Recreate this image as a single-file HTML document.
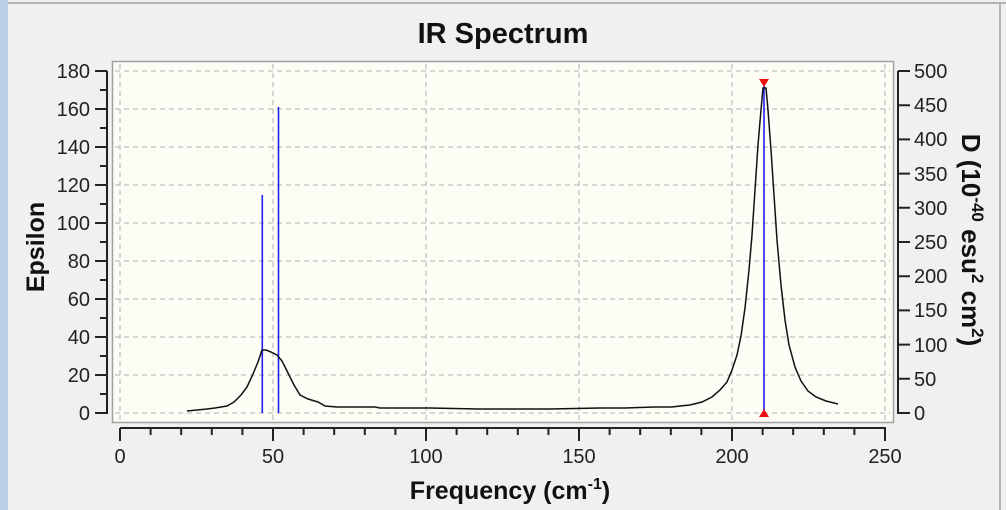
<!DOCTYPE html>
<html><head><style>
body{margin:0;width:1006px;height:510px;overflow:hidden;background:#f0f0f0;}
svg{display:block;font-family:"Liberation Sans",sans-serif;}
</style></head><body>
<svg width="1006" height="510" viewBox="0 0 1006 510">
<rect x="0" y="0" width="1006" height="510" fill="#f0f0f0"/>
<rect x="0" y="0" width="8" height="510" fill="#b9cfe6"/>
<line x1="8" y1="3" x2="1006" y2="3" stroke="#a0a0a0" stroke-width="1.5"/>
<line x1="1000" y1="3" x2="1000" y2="510" stroke="#a0a0a0" stroke-width="1.5"/>
<text x="503" y="43" font-size="29" font-weight="bold" text-anchor="middle" fill="#111">IR Spectrum</text>
<rect x="112.5" y="61.5" width="781" height="361" fill="#fdfdf6" stroke="#a0a0a0" stroke-width="1.5"/>
<g stroke="#b0b0b0" stroke-dasharray="5,4" stroke-width="1">
<line x1="120" y1="64" x2="120" y2="420"/><line x1="273" y1="64" x2="273" y2="420"/>
<line x1="426" y1="64" x2="426" y2="420"/><line x1="579" y1="64" x2="579" y2="420"/>
<line x1="732" y1="64" x2="732" y2="420"/><line x1="885" y1="64" x2="885" y2="420"/>
<line x1="115" y1="71" x2="890" y2="71"/><line x1="115" y1="109" x2="890" y2="109"/>
<line x1="115" y1="147" x2="890" y2="147"/><line x1="115" y1="185" x2="890" y2="185"/>
<line x1="115" y1="223" x2="890" y2="223"/><line x1="115" y1="261" x2="890" y2="261"/>
<line x1="115" y1="299" x2="890" y2="299"/><line x1="115" y1="337" x2="890" y2="337"/>
<line x1="115" y1="375" x2="890" y2="375"/><line x1="115" y1="413" x2="890" y2="413"/>
</g>
<g stroke="#222" stroke-width="2">
<line x1="107" y1="71" x2="107" y2="414"/>
<path d="M95 71H107M100 90H107M95 109H107M100 128H107M95 147H107M100 166H107M95 185H107M100 204H107M95 223H107M100 242H107M95 261H107M100 280H107M95 299H107M100 318H107M95 337H107M100 356H107M95 375H107M100 394H107M95 413H107"/>
<line x1="898" y1="71" x2="898" y2="414"/>
<path d="M898 71H910M898 105.2H910M898 139.4H910M898 173.6H910M898 207.8H910M898 242H910M898 276.2H910M898 310.4H910M898 344.6H910M898 378.8H910M898 413H910"/>
<line x1="120" y1="428" x2="886" y2="428"/>
<path d="M120 428V441M150.6 428V435M181.2 428V435M211.8 428V435M242.4 428V435M273 428V441M303.6 428V435M334.2 428V435M364.8 428V435M395.4 428V435M426 428V441M456.6 428V435M487.2 428V435M517.8 428V435M548.4 428V435M579 428V441M609.6 428V435M640.2 428V435M670.8 428V435M701.4 428V435M732 428V441M762.6 428V435M793.2 428V435M823.8 428V435M854.4 428V435M885 428V441"/>
</g>
<g font-size="20" fill="#222" text-anchor="end">
<text x="90" y="78">180</text><text x="90" y="116">160</text><text x="90" y="154">140</text><text x="90" y="192">120</text><text x="90" y="230">100</text><text x="90" y="268">80</text><text x="90" y="306">60</text><text x="90" y="344">40</text><text x="90" y="382">20</text><text x="90" y="420">0</text>
</g>
<g font-size="20" fill="#222">
<text x="914" y="78">500</text><text x="914" y="112">450</text><text x="914" y="146">400</text><text x="914" y="181">350</text><text x="914" y="215">300</text><text x="914" y="249">250</text><text x="914" y="283">200</text><text x="914" y="317">150</text><text x="914" y="352">100</text><text x="914" y="386">50</text><text x="914" y="420">0</text>
</g>
<g font-size="20" fill="#222" text-anchor="middle">
<text x="120" y="463">0</text><text x="273" y="463">50</text><text x="426" y="463">100</text><text x="579" y="463">150</text><text x="732" y="463">200</text><text x="885" y="463">250</text>
</g>
<text x="510" y="499" font-size="25" font-weight="bold" text-anchor="middle" fill="#111">Frequency (cm<tspan dy="-10" font-size="16">-1</tspan><tspan dy="10">)</tspan></text>
<text transform="translate(44,247) rotate(-90)" font-size="25" font-weight="bold" text-anchor="middle" fill="#111">Epsilon</text>
<text transform="translate(962,240) rotate(90)" font-size="26" font-weight="bold" text-anchor="middle" fill="#111">D (10<tspan dy="-10" font-size="17">-40</tspan><tspan dy="10"> esu</tspan><tspan dy="-10" font-size="17">2</tspan><tspan dy="10"> cm</tspan><tspan dy="-10" font-size="17">2</tspan><tspan dy="10">)</tspan></text>
<g stroke="#2020ee" stroke-width="1.6">
<line x1="262.3" y1="413" x2="262.3" y2="195"/>
<line x1="278.5" y1="413" x2="278.5" y2="107"/>
<line x1="764" y1="413" x2="764" y2="84"/>
</g>
<polyline fill="none" stroke="#111" stroke-width="1.5" points="
187,411 197,410 207,409 215,408 227,406 234,402 241,395 247,387 253,374 258,362 262,350 266,350 271,352 277,355 282,361 288,373 294,385 300,395 308,399 318,402 325,406 337,407 375,407 380,408 430,408 478,409 550,409 600,408 625,408 655,407 672,407 680,406 690,405 702,402 712,397 720,390 727,382 732,370 737,355 741,336 745,308 749,270 752,235 755,190 758,145 761,110 763,88 766,88 768,110 771,150 774,195 777,240 781,285 785,320 789,345 795,367 801,381 808,391 816,397 826,401 838,404"/>
<polygon points="759,79 769,79 764,87" fill="#ee1111"/>
<polygon points="759,417 769,417 764,409" fill="#ee1111"/>
</svg>
</body></html>
